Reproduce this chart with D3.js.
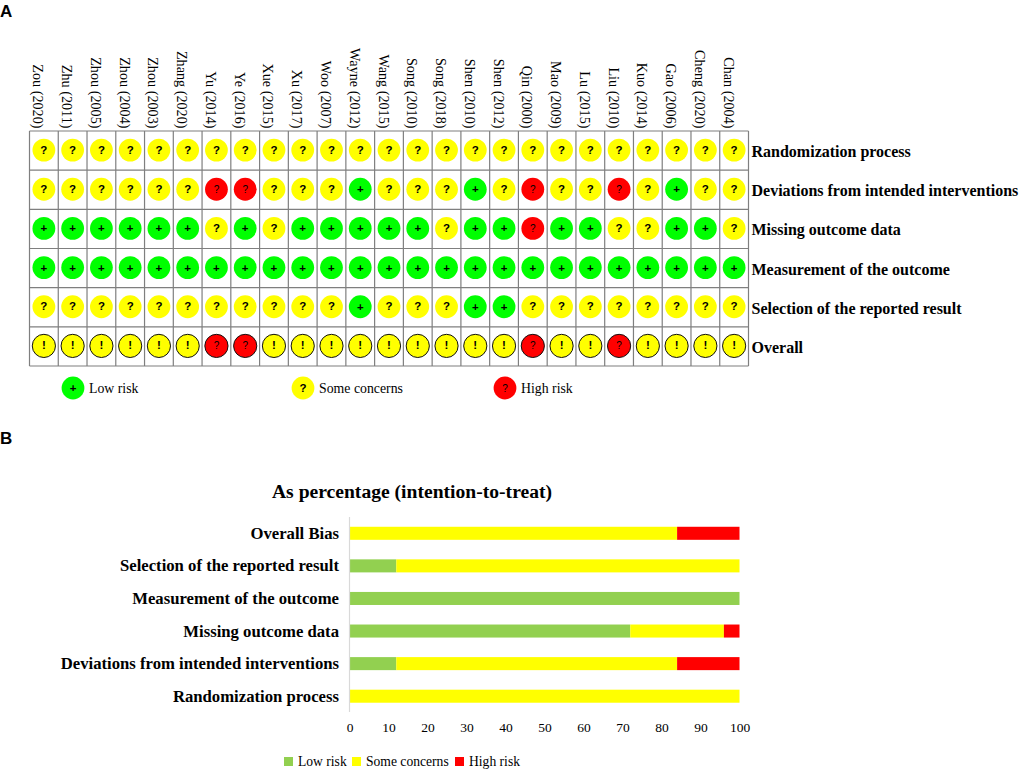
<!DOCTYPE html>
<html>
<head>
<meta charset="utf-8">
<script src="https://cdnjs.cloudflare.com/ajax/libs/d3/7.8.5/d3.min.js"></script>
<style>
  body { margin: 0; background: #fff; }
  svg { display: block; }
  text { font-family: "Liberation Serif", serif; fill: #000; }
  .panel { font-family: "Liberation Sans", sans-serif; font-weight: bold; font-size: 17px; }
</style>
</head>
<body>
<svg id="chart" width="1020" height="770"></svg>
<script>
const studies = ["Zou (2020)", "Zhu (2011)", "Zhou (2005)", "Zhou (2004)", "Zhou (2003)", "Zhang (2020)", "Yu (2014)", "Ye (2016)", "Xue (2015)", "Xu (2017)", "Woo (2007)", "Wayne (2012)", "Wang (2015)", "Song (2010)", "Song (2018)", "Shen (2010)", "Shen (2012)", "Qin (2000)", "Mao (2009)", "Lu (2015)", "Liu (2010)", "Kuo (2014)", "Gao (2006)", "Cheng (2020)", "Chan (2004)"];
const domains = ["Randomization process", "Deviations from intended interventions", "Missing outcome data", "Measurement of the outcome", "Selection of the reported result", "Overall"];

// one string per domain, one letter per study: L low, S some concerns, H high
const randomization = "SSSSSSSSSSSSSSSSSSSSSSSSS";
const deviations    = "SSSSSSHHSSSLSSSLSHSSHSLSS";
const missing       = "LLLLLLSLSLLLLLSLLHLLSSLLS";
const measurement   = "LLLLLLLLLLLLLLLLLLLLLLLLL";
const selection     = "SSSSSSSSSSSLSSSLLSSSSSSSS";
const overall       = "SSSSSSHHSSSSSSSSSHSSHSSSS";
const judgements = [randomization, deviations, missing, measurement, selection, overall];

const barCategories = ["Overall Bias", "Selection of the reported result", "Measurement of the outcome", "Missing outcome data", "Deviations from intended interventions", "Randomization process"];
const lowRisk = [0, 12, 100, 72, 12, 0];
const someConcerns = [84, 88, 0, 24, 72, 100];
const highRisk = [16, 0, 0, 4, 16, 0];
const percentTicks = [0, 10, 20, 30, 40, 50, 60, 70, 80, 90, 100];

const svg = d3.select("#chart");
const circleColors = { L: "#00ff00", S: "#ffff00", H: "#ff0000" };
const symbols = { L: "+", S: "?", H: "?" };

svg.append("text").attr("class", "panel").attr("x", 0).attr("y", 17).text("A");
svg.append("text").attr("class", "panel").attr("x", 0).attr("y", 444).text("B");

// panel A: traffic light grid
const x = d3.scaleBand().domain(studies).range([29.5, 748.5]);
const y = d3.scaleBand().domain(domains).range([131, 366]);

const grid = svg.append("g").attr("stroke", "#7f7f7f").attr("stroke-width", 1.2);
grid.selectAll(".v").data(studies.concat(null)).enter().append("line")
  .attr("x1", (d) => (d ? x(d) : x.range()[1]))
  .attr("x2", (d) => (d ? x(d) : x.range()[1]))
  .attr("y1", y.range()[0]).attr("y2", y.range()[1]);
grid.selectAll(".h").data(domains.concat(null)).enter().append("line")
  .attr("x1", x.range()[0]).attr("x2", x.range()[1])
  .attr("y1", (d) => (d ? y(d) : y.range()[1]))
  .attr("y2", (d) => (d ? y(d) : y.range()[1]));

svg.selectAll(".study").data(studies).enter().append("text")
  .attr("transform", (d) => `translate(${x(d) + x.bandwidth() / 2 - 10.5},128.5) rotate(90)`)
  .attr("text-anchor", "end")
  .attr("font-size", 14.2)
  .text((d) => d);

svg.selectAll(".domain-label").data(domains).enter().append("text")
  .attr("x", 751.5)
  .attr("y", (d) => y(d) + y.bandwidth() / 2 + 6.5)
  .attr("font-size", 16)
  .attr("font-weight", "bold")
  .text((d) => d);

function marker(g, code, cx, cy, isOverall) {
  const concern = isOverall && code === "S";
  g.append("circle")
    .attr("cx", cx).attr("cy", cy).attr("r", isOverall ? 11.6 : 11.4)
    .attr("fill", circleColors[code])
    .attr("stroke", isOverall ? "#111" : "none")
    .attr("stroke-width", 1);
  g.append("text")
    .attr("x", cx).attr("y", cy + (code === "L" ? 4 : 3.5))
    .attr("text-anchor", "middle")
    .attr("font-size", code === "H" ? 10 : 11.5)
    .attr("font-weight", code === "H" ? "normal" : "bold")
    .style("font-family", '"Liberation Sans", sans-serif')
    .text(concern ? "!" : symbols[code]);
}

const markers = svg.append("g");
domains.forEach((dom, r) => {
  studies.forEach((st, c) => {
    marker(markers, judgements[r][c], x(st) + x.bandwidth() / 2, y(dom) + y.bandwidth() / 2 - 0.5, dom === "Overall");
  });
});

// panel A legend
const gridLegend = [["L", "Low risk", 73], ["S", "Some concerns", 303], ["H", "High risk", 505]];
gridLegend.forEach(([code, label, cx]) => {
  marker(svg, code, cx, 388, false);
  svg.append("text").attr("x", cx + 16).attr("y", 393).attr("font-size", 13.8).text(label);
});

// panel B: stacked bars
const bx = d3.scaleLinear().domain([0, 100]).range([349.5, 739.5]);
const by = d3.scaleBand().domain(barCategories).range([517, 712.5]).paddingInner(0.6).paddingOuter(0.3);

const rows = barCategories.map((name, i) => ({ name, low: lowRisk[i], some: someConcerns[i], high: highRisk[i] }));
const keys = ["low", "some", "high"];
const barColors = { low: "#92d050", some: "#ffff00", high: "#ff0000" };
const stacked = d3.stack().keys(keys)(rows);

svg.append("text")
  .attr("x", 412).attr("y", 498)
  .attr("text-anchor", "middle")
  .attr("font-size", 19.6).attr("font-weight", "bold")
  .text("As percentage (intention-to-treat)");

svg.selectAll(".layer").data(stacked).enter().append("g")
  .attr("fill", (d) => barColors[d.key])
  .selectAll("rect").data((d) => d).enter().append("rect")
  .attr("x", (d) => bx(d[0]))
  .attr("y", (d) => by(d.data.name))
  .attr("width", (d) => bx(d[1]) - bx(d[0]))
  .attr("height", by.bandwidth());

svg.append("line")
  .attr("x1", bx(0)).attr("x2", bx(0))
  .attr("y1", 517).attr("y2", 712)
  .attr("stroke", "#d9d9d9").attr("stroke-width", 1.2);

svg.selectAll(".bar-label").data(barCategories).enter().append("text")
  .attr("x", 339)
  .attr("y", (d) => by(d) + by.bandwidth() / 2 + 5.5)
  .attr("text-anchor", "end")
  .attr("font-size", 16.7)
  .attr("font-weight", "bold")
  .text((d) => d);

const axis = svg.append("g")
  .attr("transform", "translate(0,712)")
  .call(d3.axisBottom(bx).tickValues(percentTicks).tickSize(0).tickPadding(10));
axis.select(".domain").remove();
axis.selectAll("text").attr("font-size", 13.5).style("font-family", '"Liberation Serif", serif');

// panel B legend
const barLegend = [["low", "Low risk", 284], ["some", "Some concerns", 352], ["high", "High risk", 455]];
barLegend.forEach(([key, label, lx]) => {
  svg.append("rect").attr("x", lx).attr("y", 757).attr("width", 9).attr("height", 9).attr("fill", barColors[key]);
  svg.append("text").attr("x", lx + 14).attr("y", 766).attr("font-size", 13.6).text(label);
});
</script>
</body>
</html>
